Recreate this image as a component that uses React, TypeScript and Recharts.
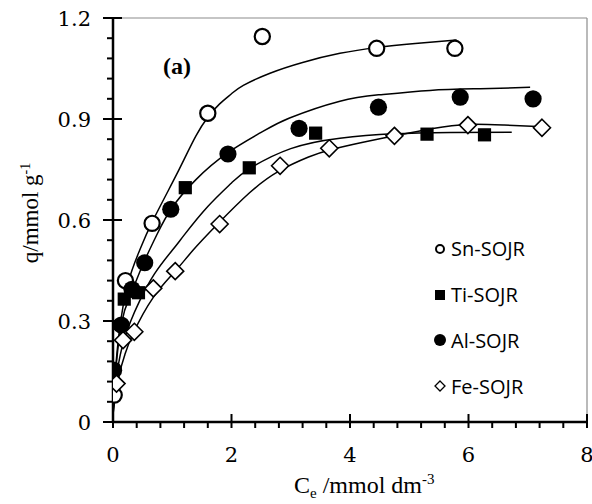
import React from 'react';
import { ComposedChart, Line, Scatter, XAxis, YAxis, ReferenceLine } from 'recharts';

// measured points (Ce, q)
const snX = [0.02, 0.21, 0.66, 1.60, 2.52, 4.45, 5.77];
const snY = [0.08, 0.42, 0.59, 0.917, 1.145, 1.11, 1.11];
const tiX = [0.19, 0.43, 1.22, 2.30, 3.42, 5.30, 6.27];
const tiY = [0.365, 0.384, 0.696, 0.755, 0.858, 0.855, 0.853];
const alX = [0.01, 0.14, 0.32, 0.535, 0.975, 1.94, 3.14, 4.48, 5.86, 7.09];
const alY = [0.154, 0.288, 0.394, 0.473, 0.632, 0.796, 0.872, 0.935, 0.965, 0.960];
const feX = [0.06, 0.17, 0.36, 0.68, 1.05, 1.80, 2.82, 3.65, 4.75, 5.99, 7.24];
const feY = [0.114, 0.243, 0.268, 0.397, 0.448, 0.588, 0.761, 0.813, 0.850, 0.882, 0.874];

// fitted curves
const snFitX = [0, 0.03, 0.1, 0.25, 0.45, 0.65, 1.0, 1.2, 1.4, 1.6, 1.8, 2.0, 2.2, 2.65, 3.2, 3.83, 4.45, 5.1, 5.8];
const snFitY = [0.02, 0.12, 0.26, 0.41, 0.51, 0.59, 0.71, 0.78, 0.85, 0.905, 0.945, 0.975, 1.0, 1.036, 1.068, 1.095, 1.112, 1.124, 1.135];
const alFitX = [0, 0.03, 0.14, 0.3, 0.51, 0.75, 0.99, 1.4, 1.94, 2.5, 2.98, 3.83, 4.5, 5.35, 6.2, 7.04];
const alFitY = [0.02, 0.12, 0.29, 0.38, 0.47, 0.56, 0.635, 0.72, 0.80, 0.86, 0.903, 0.953, 0.972, 0.985, 0.99, 0.994];
const tiFitX = [0, 0.05, 0.15, 0.3, 0.45, 0.7, 1.0, 1.2, 1.6, 2.0, 2.3, 3.0, 3.83, 4.73, 5.7, 6.73];
const tiFitY = [0.02, 0.12, 0.22, 0.30, 0.36, 0.44, 0.51, 0.555, 0.64, 0.71, 0.752, 0.812, 0.843, 0.856, 0.86, 0.861];
const feFitX = [0, 0.03, 0.11, 0.2, 0.34, 0.68, 1.04, 1.35, 1.75, 2.3, 2.8, 3.3, 3.66, 4.2, 4.75, 5.4, 5.99, 6.6, 7.26];
const feFitY = [0.02, 0.065, 0.144, 0.20, 0.263, 0.37, 0.446, 0.51, 0.585, 0.68, 0.745, 0.787, 0.808, 0.83, 0.85, 0.872, 0.884, 0.882, 0.877];

const xTicks = [0, 0.4, 0.8, 1.2, 1.6, 2, 2.4, 2.8, 3.2, 3.6, 4, 4.4, 4.8, 5.2, 5.6, 6, 6.4, 6.8, 7.2, 7.6, 8];
const yTicks = [0, 0.06, 0.12, 0.18, 0.24, 0.3, 0.36, 0.42, 0.48, 0.54, 0.6, 0.66, 0.72, 0.78, 0.84, 0.9, 0.96, 1.02, 1.08, 1.14, 1.2];

const legendNames = ['Sn-SOJR', 'Ti-SOJR', 'Al-SOJR', 'Fe-SOJR'];

const zip = (xs: number[], ys: number[]) => xs.map((x, i) => ({ x, y: ys[i] }));

const isMajor = (v: number, step: number) => Math.abs(v / step - Math.round(v / step)) < 1e-6;

const TICK_FONT = '"DejaVu Serif", serif';
const TITLE_FONT = '"Liberation Serif", "Times New Roman", serif';

function XTick(props: any) {
  const { x, y, payload } = props;
  const v = payload.value;
  const major = isMajor(v, 2);
  return (
    <g>
      <line x1={x} x2={x} y1={major ? y - 8 : y} y2={y + 6} stroke="#000" strokeWidth={2} />
      {major && (
        <text x={x} y={y + 40} textAnchor="middle" fontFamily={TICK_FONT} fontSize={21} fill="#000">
          {v}
        </text>
      )}
    </g>
  );
}

function YTick(props: any) {
  const { x, y, payload } = props;
  const v = payload.value;
  const major = isMajor(v, 0.3);
  const label = v === 0 ? '0' : v.toFixed(1);
  return (
    <g>
      <line x1={x - (major ? 10 : 6)} x2={major ? x + 9 : x} y1={y} y2={y} stroke="#000" strokeWidth={2} />
      {major && (
        <text x={x - 22} y={y + 7.5} textAnchor="end" fontFamily={TICK_FONT} fontSize={21} fill="#000">
          {label}
        </text>
      )}
    </g>
  );
}

function YTitle(props: any) {
  const { viewBox } = props;
  const cx = 38;
  const cy = viewBox.y + viewBox.height / 2 - 7;
  return (
    <text x={cx} y={cy} transform={`rotate(-90, ${cx}, ${cy})`} textAnchor="middle"
      fontFamily={TITLE_FONT} fontSize={23} fill="#000">
      q/mmol g<tspan dy={-8} fontSize={14}>-1</tspan>
    </text>
  );
}

function XTitle(props: any) {
  const { viewBox } = props;
  const bx = viewBox.x + 181;
  const by = 493;
  return (
    <text x={bx} y={by} fontFamily={TITLE_FONT} fontSize={24} fill="#000">
      C<tspan dy={5} fontSize={15}>e</tspan>
      <tspan dy={-5}> /mmol dm</tspan>
      <tspan dy={-9} fontSize={15}>-3</tspan>
    </text>
  );
}

const OpenCircle = (p: any) => (
  <circle cx={p.cx} cy={p.cy} r={7.6} fill="#fff" stroke="#000" strokeWidth={2.2} />
);
const FilledCircle = (p: any) => <circle cx={p.cx} cy={p.cy} r={8.6} fill="#000" />;
const FilledSquare = (p: any) => (
  <rect x={p.cx - 6.6} y={p.cy - 6.6} width={13.2} height={13.2} fill="#000" />
);
const OpenDiamond = (p: any) => (
  <path
    d={`M${p.cx},${p.cy - 8.5} L${p.cx + 8.5},${p.cy} L${p.cx},${p.cy + 8.5} L${p.cx - 8.5},${p.cy} Z`}
    fill="#fff" stroke="#000" strokeWidth={1.6}
  />
);

function LegendIcon({ i }: { i: number }) {
  return (
    <svg width={14} height={14} style={{ display: 'block' }}>
      {i === 0 && <circle cx={7} cy={7} r={4} fill="#fff" stroke="#000" strokeWidth={2} />}
      {i === 1 && <rect x={2} y={2} width={10} height={10} fill="#000" />}
      {i === 2 && <circle cx={7} cy={7} r={6} fill="#000" />}
      {i === 3 && <path d="M7,2 L12,7 L7,12 L2,7 Z" fill="#fff" stroke="#000" strokeWidth={1.3} />}
    </svg>
  );
}

export default function App() {
  const curveProps = {
    type: 'natural' as const,
    dataKey: 'y',
    stroke: '#000',
    strokeWidth: 1.5,
    dot: false,
    activeDot: false,
    isAnimationActive: false,
    legendType: 'none' as const,
  };

  return (
    <div style={{ position: 'absolute', left: 0, top: 0, width: 592, height: 504, background: '#fff' }}>
      <ComposedChart width={592} height={504} margin={{ top: 18, right: 5, left: 0, bottom: 0 }}>
        <XAxis
          type="number"
          dataKey="x"
          domain={[0, 8]}
          ticks={xTicks}
          interval={0}
          allowDataOverflow
          height={82}
          tickSize={0}
          tickMargin={0}
          tick={<XTick />}
          axisLine={{ stroke: '#000', strokeWidth: 2.5 }}
          label={{ content: <XTitle /> }}
        />
        <YAxis
          type="number"
          dataKey="y"
          domain={[0, 1.2]}
          ticks={yTicks}
          interval={0}
          allowDataOverflow
          width={113}
          tickSize={0}
          tickMargin={0}
          tick={<YTick />}
          axisLine={{ stroke: '#000', strokeWidth: 2.5 }}
          label={{ content: <YTitle /> }}
        />
        <ReferenceLine y={1.2} stroke="#8c8c8c" strokeWidth={1.2} />
        <ReferenceLine x={8} stroke="#8c8c8c" strokeWidth={1.2} />

        <Scatter data={zip(snX, snY)} shape={<OpenCircle />} isAnimationActive={false} />
        <Scatter data={zip(tiX, tiY)} shape={<FilledSquare />} isAnimationActive={false} />
        <Scatter data={zip(alX, alY)} shape={<FilledCircle />} isAnimationActive={false} />
        <Scatter data={zip(feX, feY)} shape={<OpenDiamond />} isAnimationActive={false} />

        <Line data={zip(snFitX, snFitY)} {...curveProps} />
        <Line data={zip(alFitX, alFitY)} {...curveProps} />
        <Line data={zip(tiFitX, tiFitY)} {...curveProps} />
        <Line data={zip(feFitX, feFitY)} {...curveProps} />
      </ComposedChart>

      <div style={{
        position: 'absolute', left: 163, top: 51,
        fontFamily: TITLE_FONT, fontWeight: 'bold', fontSize: 24, lineHeight: '30px',
      }}>
        (a)
      </div>

      <div style={{ position: 'absolute', left: 433, top: 226 }}>
        {legendNames.map((name, i) => (
          <div key={name} style={{ display: 'flex', alignItems: 'center', height: 45.8 }}>
            <LegendIcon i={i} />
            <span style={{ fontFamily: '"Open Sans", sans-serif', fontSize: 20, marginLeft: 4, color: '#000' }}>
              {name}
            </span>
          </div>
        ))}
      </div>
    </div>
  );
}
